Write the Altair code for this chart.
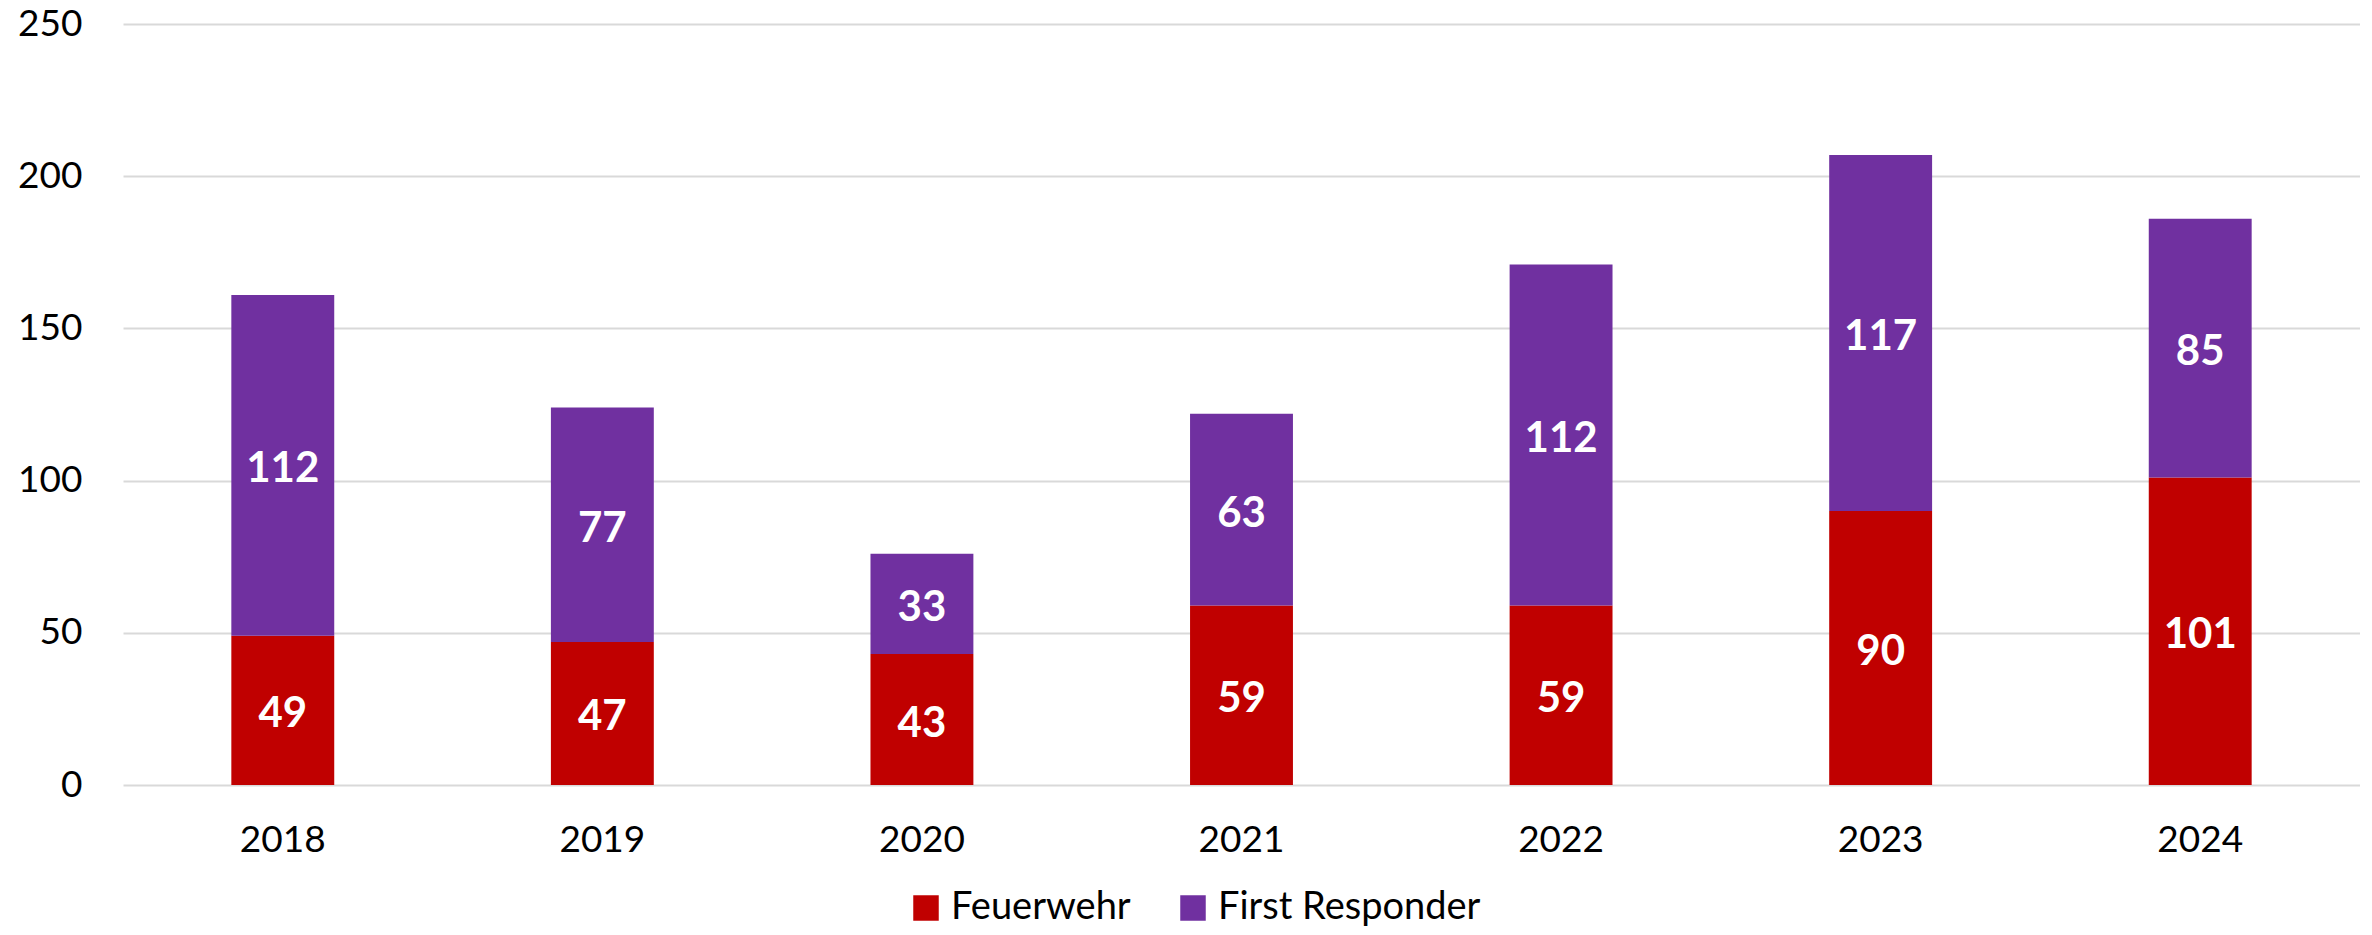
import altair as alt
import pandas as pd

years = ["2018", "2019", "2020", "2021", "2022", "2023", "2024"]
feuerwehr = [49, 47, 43, 59, 59, 90, 101]
first_responder = [112, 77, 33, 63, 112, 117, 85]
series = ["Feuerwehr", "First Responder"]
colors = ["#C00000", "#7030A0"]
y_ticks = [0, 50, 100, 150, 200, 250]

rows = []
for i, y in enumerate(years):
    rows.append({"year": y, "series": series[0], "value": feuerwehr[i], "order": 0})
    rows.append({"year": y, "series": series[1], "value": first_responder[i], "order": 1})
df = pd.DataFrame(rows)

FONT = "Lato"

base = alt.Chart(df).transform_stack(
    stack="value", groupby=["year"], as_=["y0", "y1"], sort=[alt.SortField("order", order="ascending")]
).transform_calculate(mid="(datum.y0 + datum.y1) / 2")

x_enc = alt.X(
    "year:N",
    sort=years,
    title=None,
    scale=alt.Scale(paddingInner=0.678, paddingOuter=0.339),
    axis=alt.Axis(
        labelFont=FONT, labelFontSize=37, labelColor="#000000", labelAngle=0,
        labelBaseline="middle", labelPadding=55, domain=False, ticks=False, grid=False,
    ),
)

bars = base.mark_bar().encode(
    x=x_enc,
    y=alt.Y(
        "y1:Q",
        title=None,
        scale=alt.Scale(domain=[0, 250], nice=False),
        axis=alt.Axis(
            values=y_ticks, labelFont=FONT, labelFontSize=37, labelColor="#000000",
            labelPadding=41, domain=False, ticks=False, grid=True,
            gridColor="#D9D9D9", gridWidth=2,
        ),
    ),
    y2="y0:Q",
    color=alt.Color(
        "series:N",
        scale=alt.Scale(domain=series, range=colors),
        legend=alt.Legend(
            title=None, orient="none", direction="horizontal",
            legendX=784, legendY=865, padding=0,
            symbolType="square", symbolSize=650, symbolStrokeWidth=0,
            symbolOpacity=1,
            labelFont=FONT, labelFontSize=38, labelColor="#000000", labelLimit=0,
            labelOffset=6, columnPadding=43,
        ),
    ),
)

labels = base.mark_text(
    font=FONT, fontSize=42, fontWeight="bold", color="white", baseline="middle", align="center", dy=4
).encode(
    x=alt.X("year:N", sort=years),
    y=alt.Y("mid:Q"),
    text=alt.Text("value:Q"),
)

chart = alt.layer(bars, labels).properties(
    width=2237,
    height=761,
    autosize=alt.AutoSizeParams(type="none"),
    padding={"left": 115, "top": 16, "right": 0, "bottom": 142},
).configure_view(stroke=None)

chart.save("out.html", embed_options={"renderer": "svg", "actions": False})
